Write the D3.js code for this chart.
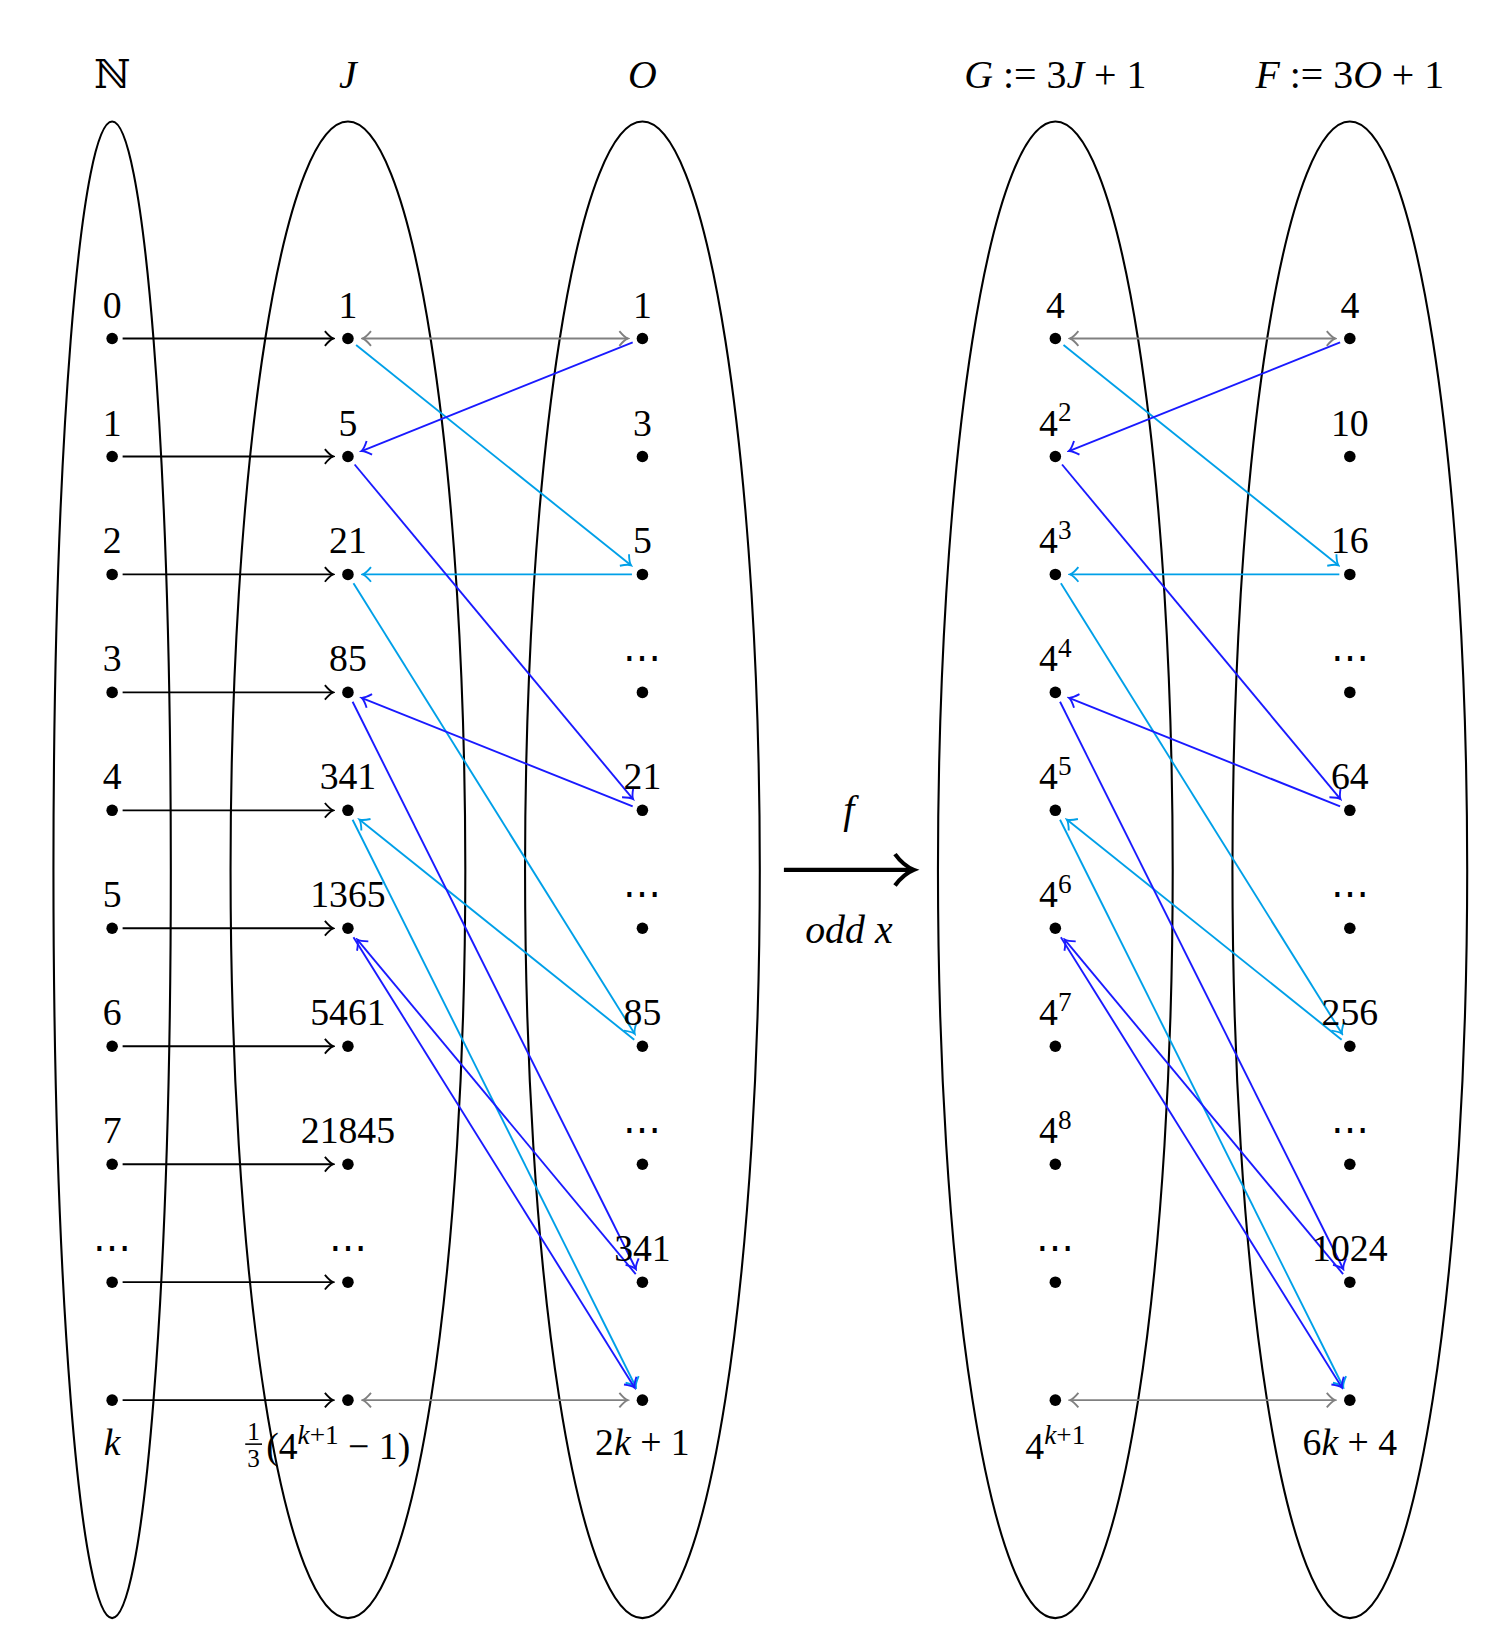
<!DOCTYPE html>
<html><head><meta charset="utf-8">
<script src="https://cdn.jsdelivr.net/npm/d3@7"></script>
<style>body{margin:0;background:#fff}text{font-family:"Liberation Serif","DejaVu Serif",serif;fill:#000}</style>
</head><body><svg id="c" width="1505" height="1646"></svg>
<script>
const columns = ["N","J","O","G","F"];
const headers = [["ℕ",""],["J","i"],["O","i"],["G := 3J + 1","m"],["F := 3O + 1","m"]];
const nLabels = ["0","1","2","3","4","5","6","7","⋯"];
const jLabels = ["1","5","21","85","341","1365","5461","21845","⋯"];
const oLabels = ["1","3","5","⋯","21","⋯","85","⋯","341"];
const gExp = ["","2","3","4","5","6","7","8",null];
const fLabels = ["4","10","16","⋯","64","⋯","256","⋯","1024"];
// [source side, source row, target row]
const cyanEdges = [["L",0,2],["R",2,2],["L",2,6],["R",6,4],["L",4,9]];
const blueEdges = [["R",0,1],["L",1,4],["R",4,3],["L",3,8],["R",8,5],["L",5,9]];

const root = d3.select("#c");
const svg = root.append("g").attr("transform","scale(1.048)");
const xCol = d3.scaleOrdinal().domain(columns).range([107,332,613,1007,1288]);
const yRow = d3.scaleLinear().domain([0,9]).range([323,1336]);
const rxCol = {N:56,J:112,O:112,G:112,F:112};

const defs = root.append("defs");
function marker(id,color){
  defs.append("marker").attr("id",id).attr("viewBox","-10 -8 12 16").attr("refX",0).attr("refY",0)
   .attr("markerWidth",12).attr("markerHeight",16).attr("markerUnits","userSpaceOnUse").attr("orient","auto-start-reverse")
   .append("path").attr("d","M-8,-7 Q-3,-1 0,0 Q-3,1 -8,7").attr("fill","none").attr("stroke",color).attr("stroke-width",1.8);
}
marker("mk","#000");marker("mg","#808080");marker("mc","#00a0e8");marker("mb","#1a1aff");

columns.forEach(c=>svg.append("ellipse").attr("cx",xCol(c)).attr("cy",830).attr("rx",rxCol[c]).attr("ry",714)
  .attr("fill","none").attr("stroke","#000").attr("stroke-width",2));

headers.forEach((h,i)=>{
  const t=svg.append("text").attr("x",xCol(columns[i])).attr("y",84).attr("text-anchor","middle").attr("font-size",38);
  if(h[1]==="i") t.attr("font-style","italic").text(h[0]);
  else if(h[1]==="m"){
    const parts=h[0].split(" ");
    t.append("tspan").attr("font-style","italic").text(parts[0]);
    t.append("tspan").text(" := 3");
    t.append("tspan").attr("font-style","italic").text(parts[2].slice(1));
    t.append("tspan").text(" + 1");
  } else t.text(h[0]);
});

function line(x1,y1,x2,y2,color,mk,both){
  const l=svg.append("line").attr("x1",x1).attr("y1",y1).attr("x2",x2).attr("y2",y2)
   .attr("stroke",color).attr("stroke-width",1.8).attr("marker-end",`url(#${mk})`);
  if(both) l.attr("marker-start",`url(#${mk})`);
}
function edge(c1,r1,c2,r2,color,mk,both){
  const x1=xCol(c1),y1=yRow(r1),x2=xCol(c2),y2=yRow(r2);
  const dx=x2-x1,dy=y2-y1,L=Math.hypot(dx,dy);
  const a=both?14:10,b=14;
  line(x1+dx/L*a,y1+dy/L*a,x2-dx/L*b,y2-dy/L*b,color,mk,both);
}

d3.range(10).forEach(r=>edge("N",r,"J",r,"#000","mk",false));
[["J","O"],["G","F"]].forEach(([a,b])=>{[0,9].forEach(r=>edge(a,r,b,r,"#808080","mg",true));});
[["J","O"],["G","F"]].forEach(([L,R])=>{
  const go=(list,color,mk)=>list.forEach(([s,f,t])=> s==="L"?edge(L,f,R,t,color,mk):edge(R,f,L,t,color,mk));
  go(cyanEdges,"#00a0e8","mc");
  go(blueEdges,"#1a1aff","mb");
});

columns.forEach(c=>d3.range(10).forEach(r=>svg.append("circle").attr("cx",xCol(c)).attr("cy",yRow(r)).attr("r",5.5).attr("fill","#000")));

function lab(c,r,txt){
  svg.append("text").attr("x",xCol(c)).attr("y",yRow(r)-20).attr("text-anchor","middle").attr("font-size",36).text(txt);
}
nLabels.forEach((t,r)=>lab("N",r,t));
jLabels.forEach((t,r)=>lab("J",r,t));
oLabels.forEach((t,r)=>lab("O",r,t));
fLabels.forEach((t,r)=>lab("F",r,t));
gExp.forEach((e,r)=>{
  const t=svg.append("text").attr("x",xCol("G")).attr("y",yRow(r)-20).attr("text-anchor","middle").attr("font-size",36);
  if(e===null){t.text("⋯");return;}
  t.append("tspan").text("4");
  if(e) t.append("tspan").attr("dy",-14).attr("font-size",26).text(e);
});

const yb=yRow(9)+52;
svg.append("text").attr("x",xCol("N")).attr("y",yb).attr("text-anchor","middle").attr("font-size",36).attr("font-style","italic").text("k");
{
  const x0=xCol("J")-98;
  svg.append("text").attr("x",x0+8).attr("y",yb-14).attr("text-anchor","middle").attr("font-size",24).text("1");
  svg.append("line").attr("x1",x0).attr("x2",x0+16).attr("y1",yb-10).attr("y2",yb-10).attr("stroke","#000").attr("stroke-width",1.5);
  svg.append("text").attr("x",x0+8).attr("y",yb+12).attr("text-anchor","middle").attr("font-size",24).text("3");
  const t=svg.append("text").attr("x",x0+20).attr("y",yb+4).attr("font-size",36);
  t.append("tspan").text("(4");
  t.append("tspan").attr("dy",-14).attr("font-size",26).attr("font-style","italic").text("k");
  t.append("tspan").attr("font-size",26).text("+1");
  t.append("tspan").attr("dy",14).text(" − 1)");
}
{
  const t=svg.append("text").attr("x",xCol("O")).attr("y",yb).attr("text-anchor","middle").attr("font-size",36);
  t.append("tspan").text("2");t.append("tspan").attr("font-style","italic").text("k");t.append("tspan").text(" + 1");
}
{
  const t=svg.append("text").attr("x",xCol("G")).attr("y",yb+4).attr("text-anchor","middle").attr("font-size",36);
  t.append("tspan").text("4");
  t.append("tspan").attr("dy",-14).attr("font-size",26).attr("font-style","italic").text("k");
  t.append("tspan").attr("font-size",26).text("+1");
}
{
  const t=svg.append("text").attr("x",xCol("F")).attr("y",yb).attr("text-anchor","middle").attr("font-size",36);
  t.append("tspan").text("6");t.append("tspan").attr("font-style","italic").text("k");t.append("tspan").text(" + 4");
}

svg.append("line").attr("x1",748).attr("y1",830).attr("x2",868).attr("y2",830).attr("stroke","#000").attr("stroke-width",4);
svg.append("path").attr("d","M854,815 Q862,826 872,830 Q862,834 854,845").attr("fill","none").attr("stroke","#000").attr("stroke-width",4);
svg.append("text").attr("x",810).attr("y",785).attr("text-anchor","middle").attr("font-size",38).attr("font-style","italic").text("f");
svg.append("text").attr("x",810).attr("y",900).attr("text-anchor","middle").attr("font-size",38).attr("font-style","italic").text("odd x");
</script></body></html>
